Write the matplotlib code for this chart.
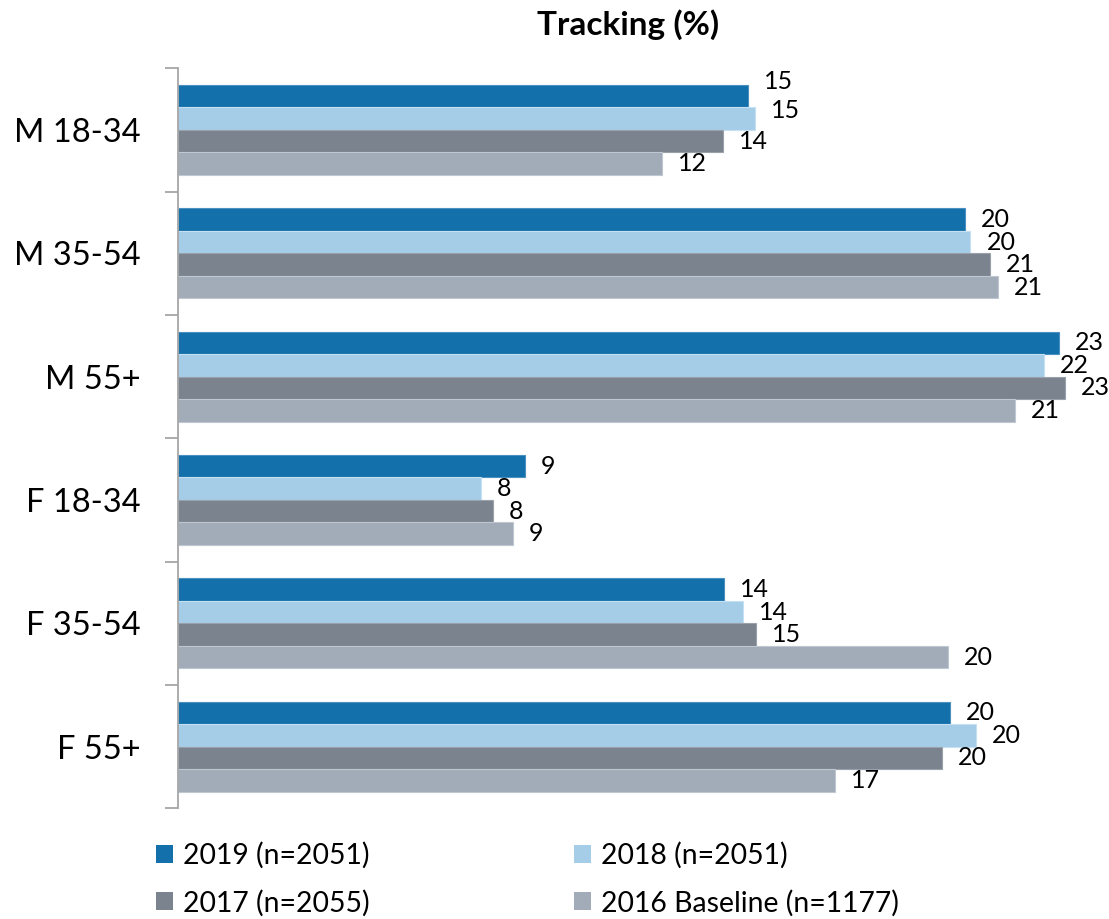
import matplotlib
matplotlib.use("Agg")
import matplotlib.pyplot as plt
from matplotlib.patches import Patch
import numpy as np

plt.rcParams['font.family'] = ['Lato', 'DejaVu Sans']

categories = ["M 18-34", "M 35-54", "M 55+", "F 18-34", "F 35-54", "F 55+"]
series_names = ["2019 (n=2051)", "2018 (n=2051)", "2017 (n=2055)", "2016 Baseline (n=1177)"]
values_2019 = [14.61, 20.18, 22.58, 8.90, 14.00, 19.79]
values_2018 = [14.80, 20.32, 22.21, 7.77, 14.49, 20.45]
values_2017 = [13.98, 20.83, 22.74, 8.08, 14.81, 19.60]
values_2016 = [12.41, 21.02, 21.45, 8.58, 19.75, 16.84]
colors = ["#1470AA", "#A5CDE8", "#7B838F", "#A1ACB8"]
edge_colors = ["#4A90C0", "#C4E0F2", "#9AA1AA", "#BFC7D0"]

all_values = [values_2019, values_2018, values_2017, values_2016]

W, H = 1109, 919
fig = plt.figure(figsize=(W / 100, H / 100), dpi=100)
ax_left, ax_right, ax_top, ax_bottom = 178, 1070, 68.3, 808.3
ax = fig.add_axes([ax_left / W, 1 - ax_bottom / H, (ax_right - ax_left) / W, (ax_bottom - ax_top) / H])

px_per_unit = 39.0
ax.set_xlim(0, (ax_right - ax_left) / px_per_unit)
ax.set_ylim(len(categories), 0)

bar_h = 0.1825
n = len(all_values)
# label nudges in points (vertical) for overlapping labels
nudges = {(0, 0): 10.8, (0, 1): 6.0}

for k, vals in enumerate(all_values):
    ys = np.arange(len(categories)) + 0.5 + (k - (n - 1) / 2) * bar_h
    ax.barh(ys, vals, height=bar_h, color=colors[k], edgecolor=edge_colors[k],
            linewidth=0.8, label=series_names[k], zorder=2)
    for i, (y, v) in enumerate(zip(ys, vals)):
        dy = nudges.get((i, k), 0)
        ax.annotate(f"{round(v):d}", xy=(v, y), xytext=(11.5, dy),
                    textcoords="offset points", ha="left", va="center",
                    fontsize=18, color="black", annotation_clip=False)

# axes styling
for s in ["top", "right", "bottom"]:
    ax.spines[s].set_visible(False)
ax.spines["left"].set_color("#A6A6A6")
ax.spines["left"].set_linewidth(1.3)
ax.set_xticks([])
ax.set_yticks(np.arange(len(categories) + 1))
ax.set_yticklabels([])
ax.tick_params(axis="y", which="major", length=9.5, width=1.3, color="#A6A6A6", direction="out")
ax.set_yticks(np.arange(len(categories)) + 0.5, minor=True)
ax.set_yticklabels(categories, minor=True, fontsize=23.5)
ax.tick_params(axis="y", which="minor", length=0, pad=27)

fig.text(628 / W, 1 - 25 / H, "Tracking (%)", ha="center", va="center",
         fontsize=24, fontweight="bold")

handles = [Patch(facecolor=c, edgecolor="none") for c in colors]
leg_kw = dict(loc="center left", frameon=False, fontsize=20.4, handlelength=0.6,
              handleheight=0.6, handletextpad=0.35, borderpad=0, borderaxespad=0,
              labelspacing=0.74)
leg1 = fig.legend([handles[0], handles[2]], [series_names[0], series_names[2]],
                  bbox_to_anchor=(156 / W, 1 - 879 / H), **leg_kw)
leg2 = fig.legend([handles[1], handles[3]], [series_names[1], series_names[3]],
                  bbox_to_anchor=(574 / W, 1 - 879 / H), **leg_kw)

fig.savefig("out.png", dpi=100)
